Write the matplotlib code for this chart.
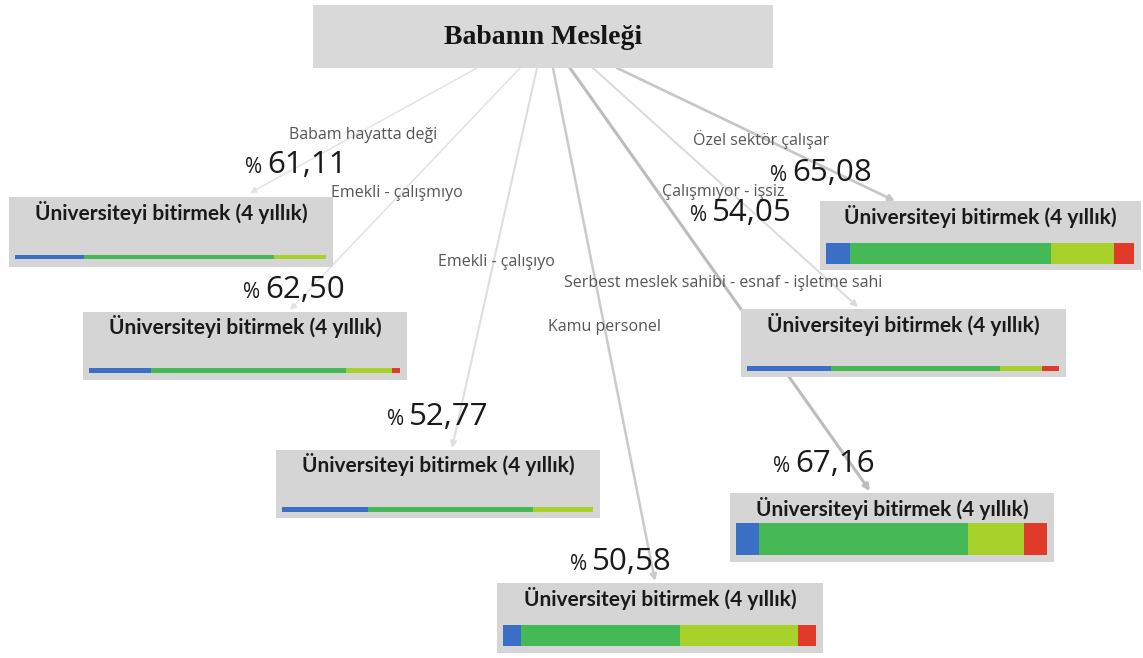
import matplotlib
matplotlib.use("Agg")
import matplotlib.pyplot as plt
from matplotlib.patches import Rectangle

# father's occupation -> share of answers "finish university (4 years)"
root_title = "Babanın Mesleği"
node_title = "Üniversiteyi bitirmek (4 yıllık)"
branches = ["Babam hayatta deği", "Emekli - çalışmıyo", "Emekli - çalışıyo",
            "Kamu personel", "Serbest meslek sahibi - esnaf - işletme sahi",
            "Çalışmıyor - işsiz", "Özel sektör çalışar"]
pct_blue = [22.22, 20.00, 27.78, 5.88, 7.46, 27.03, 7.94]
pct_green = [61.11, 62.50, 52.77, 50.58, 67.16, 54.05, 65.08]
pct_lime = [16.67, 15.00, 19.44, 37.65, 17.91, 13.51, 20.63]
pct_red = [0.00, 2.50, 0.00, 5.88, 7.46, 5.41, 6.35]

seg_colors = ["#3b6fc6", "#44b956", "#a9d12c", "#e03a2a"]

# layout in pixels (x right, y down)
W, H = 1143, 658
root_box = (313, 5, 773, 68)
boxes = [(9, 197, 333, 267), (83, 312, 407, 380), (276, 450, 600, 518),
         (497, 583, 823, 653), (730, 493, 1054, 562), (741, 309, 1066, 377),
         (820, 201, 1141, 270)]
bars = [(257, 4), (370, 5), (509, 5), (635, 21), (539, 32), (368, 5), (253, 21)]
label_pos = [(363, 135), (397, 193), (496, 262), (605, 327), (723, 283),
             (723, 192), (761, 140)]
pct_pos = [(245, 173), (243, 298), (387, 425), (570, 570), (773, 472),
           (690, 221), (770, 181)]
edges = [((477, 68), (250, 193)), ((520, 68), (290, 310)), ((537, 68), (452, 448)),
         ((553, 68), (655, 581)), ((570, 68), (870, 491)), ((593, 68), (858, 307)),
         ((617, 68), (895, 201))]
edge_style = [("#e4e4e4", 1.1), ("#e2e2e2", 1.1), ("#dedede", 1.5), ("#cacaca", 1.8),
              ("#bcbcbc", 2.2), ("#dcdcdc", 1.5), ("#c6c6c6", 1.9)]

fig = plt.figure(figsize=(W / 100, H / 100), dpi=100)
ax = fig.add_axes([0, 0, 1, 1])
ax.set_xlim(0, W)
ax.set_ylim(H, 0)
ax.axis("off")

# connectors
for ((x0, y0), (x1, y1)), (c, lw) in zip(edges, edge_style):
    ax.annotate("", xy=(x1, y1), xytext=(x0, y0),
                arrowprops=dict(arrowstyle="-|>", color=c, lw=lw,
                                mutation_scale=9, shrinkA=0, shrinkB=0),
                zorder=1)

# root node
x0, y0, x1, y1 = root_box
ax.add_patch(Rectangle((x0, y0), x1 - x0, y1 - y0, facecolor="#d9d9d9",
                       edgecolor="none", zorder=2))
ax.text((x0 + x1) / 2, (y0 + y1) / 2 + 1, root_title, ha="center", va="center",
        fontsize=20, fontweight="bold", family="Liberation Serif",
        color="#151515", zorder=3)

for i, (bx0, by0, bx1, by1) in enumerate(boxes):
    ax.add_patch(Rectangle((bx0, by0), bx1 - bx0, by1 - by0, facecolor="#d5d5d5",
                           edgecolor="none", zorder=2))
    ax.text((bx0 + bx1) / 2, by0 + 15, node_title, ha="center", va="center",
            fontsize=15, fontweight="bold", family="Lato", color="#1a1a1a",
            zorder=3)

    # stacked share bar
    yc, h = bars[i]
    shares = [pct_blue[i], pct_green[i], pct_lime[i], pct_red[i]]
    left = bx0 + 6
    span = (bx1 - 7) - left
    total = sum(shares)
    for v, c in zip(shares, seg_colors):
        w = span * v / total
        if w > 0:
            ax.barh(yc, w, height=h, left=left, color=c, edgecolor="none", zorder=3)
        left += w

    # branch label and percentage
    lx, ly = label_pos[i]
    ax.text(lx, ly, branches[i], ha="center", va="center", fontsize=11.5,
            family="Open Sans", color="#555555", zorder=4)
    px, py = pct_pos[i]
    ax.text(px, py, "%", ha="left", va="baseline", fontsize=15,
            family="Open Sans", color="#1a1a1a", zorder=4)
    ax.text(px + 22, py, f"{pct_green[i]:.2f}".replace(".", ","), ha="left",
            va="baseline", fontsize=22.5, family="Open Sans", color="#1a1a1a",
            zorder=4)

fig.savefig("out.png", dpi=100, facecolor="white")
